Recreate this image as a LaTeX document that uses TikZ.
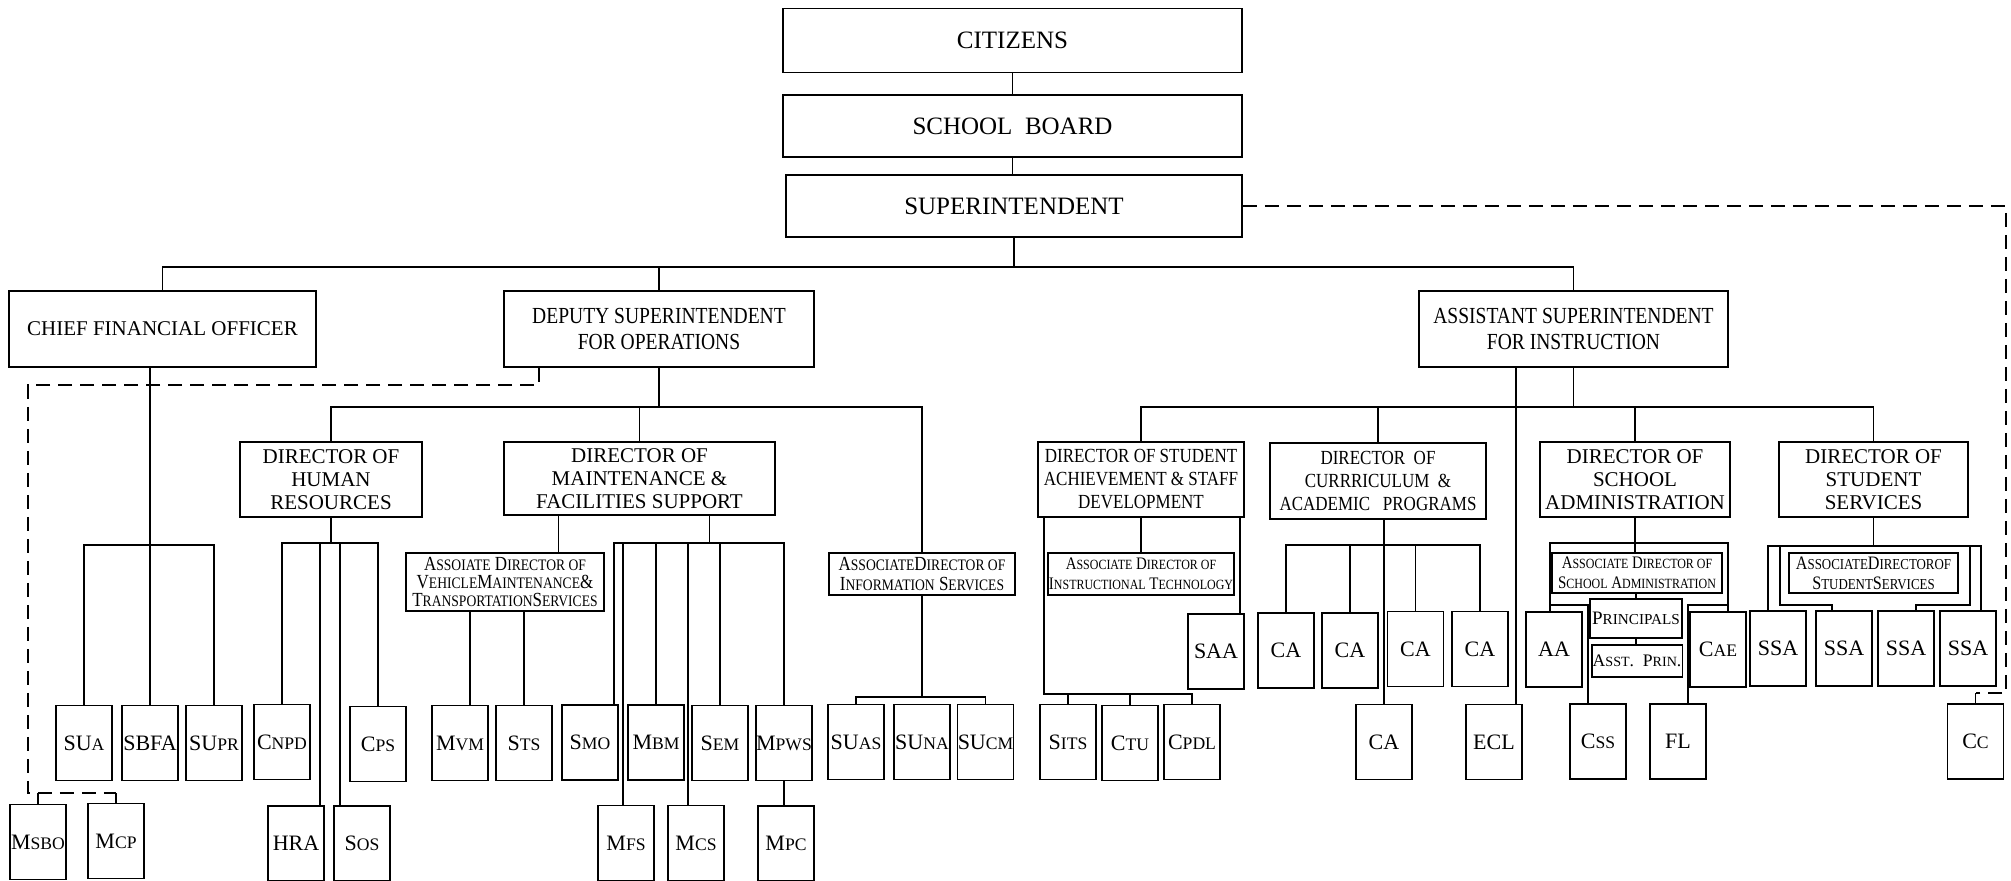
\documentclass[tikz,border=0pt]{standalone}
\usepackage{fontspec}
\setmainfont{Liberation Serif}
\newfontfamily\condfont[FakeStretch=0.85]{Liberation Serif}
\usepackage{graphicx}
\usetikzlibrary{calc}
\newcommand{\lsc}[1]{\scalebox{0.8}{#1}}

\begin{document}
\begin{tikzpicture}[x=0.5pt, y=-0.5pt, line width=0.8pt,
    box/.style={draw, inner sep=0.5pt, align=center},
    topbox/.style={box, minimum width=229.5pt, minimum height=32pt, font=\fontsize{12.5}{14}\selectfont},
    headbox/.style={box, minimum width=154.5pt, minimum height=38pt, font=\condfont\fontsize{11.5}{13}\selectfont},
    dirbox/.style={box, minimum height=37.5pt, font=\fontsize{10.5}{11.5}\selectfont},
    assocbox/.style={box, minimum height=21pt, font=\condfont\fontsize{10}{10}\selectfont},
    leaf/.style={box, inner sep=0pt, minimum width=28pt, minimum height=37.5pt, font=\fontsize{11}{12}\selectfont},
    dashlink/.style={dash pattern=on 7pt off 4pt}]
  \useasboundingbox (0,0) rectangle (2011,881);

  \node[topbox] (citizens) at (1012.5,40.5) {CITIZENS};
  \node[topbox, minimum height=31pt] (board) at (1012.5,126) {SCHOOL\ \ BOARD};
  \node[topbox, minimum width=228pt, minimum height=31pt] (supt) at (1014,206) {SUPERINTENDENT};

  \node[headbox, minimum width=153.5pt, font=\fontsize{10.5}{12}\selectfont] (cfo) at (162.5,329) {CHIEF FINANCIAL OFFICER};
  \node[headbox, minimum width=155pt] (deputy) at (659,329) {DEPUTY SUPERINTENDENT\\FOR OPERATIONS};
  \node[headbox] (asi) at (1573.5,329) {ASSISTANT SUPERINTENDENT\\FOR INSTRUCTION};

  \node[dirbox, minimum width=91pt] (dirHR) at (331,479.5) {DIRECTOR OF\\HUMAN\\RESOURCES};
  \node[dirbox, minimum width=135.5pt, minimum height=36.5pt] (dirMF) at (639.5,478.5) {DIRECTOR OF\\MAINTENANCE \&\\FACILITIES SUPPORT};
  \node[dirbox, minimum width=103pt, font=\condfont\fontsize{10}{11.5}\selectfont] (dirSA) at (1141,479.5) {DIRECTOR OF STUDENT\\ACHIEVEMENT \& STAFF\\DEVELOPMENT};
  \node[dirbox, minimum width=108pt, minimum height=38pt, font=\condfont\fontsize{10}{11.5}\selectfont] (dirCA) at (1378,481) {DIRECTOR\ \ OF\\CURRRICULUM\ \ \&\\ACADEMIC\ \ \ PROGRAMS};
  \node[dirbox, minimum width=95pt] (dirAdm) at (1635,479.5) {DIRECTOR OF\\SCHOOL\\ADMINISTRATION};
  \node[dirbox, minimum width=94.5pt] (dirSS) at (1873.5,479.5) {DIRECTOR OF\\STUDENT\\SERVICES};

  \node[assocbox, minimum width=99pt, minimum height=29pt, font=\condfont\fontsize{10}{9}\selectfont] (assocVM) at (505,582) {A\lsc{SSOIATE} D\lsc{IRECTOR OF}\\V\lsc{EHICLE}M\lsc{AINTENANCE}\&\\T\lsc{RANSPORTATION}S\lsc{ERVICES}};
  \node[assocbox, minimum width=93pt] (assocIS) at (922,574) {A\lsc{SSOCIATE}D\lsc{IRECTOR OF}\\I\lsc{NFORMATION} S\lsc{ERVICES}};
  \node[assocbox, minimum width=91pt, font=\condfont\fontsize{8.8}{10}\selectfont] (assocIT) at (1141,574) {A\lsc{SSOCIATE} D\lsc{IRECTOR OF}\\I\lsc{NSTRUCTIONAL} T\lsc{ECHNOLOGY}};
  \node[assocbox, minimum width=85pt, minimum height=20pt, font=\condfont\fontsize{8.8}{10}\selectfont] (assocAdm) at (1637,573) {A\lsc{SSOCIATE} D\lsc{IRECTOR OF}\\S\lsc{CHOOL} A\lsc{DMINISTRATION}};
  \node[assocbox, minimum width=84.5pt, minimum height=20pt, font=\condfont\fontsize{9.5}{10}\selectfont] (assocSS) at (1873.5,573) {A\lsc{SSOCIATE}D\lsc{IRECTOROF}\\S\lsc{TUDENT}S\lsc{ERVICES}};
  \node[box, minimum width=46pt, minimum height=19.5pt, font=\fontsize{9.5}{10}\selectfont] (principals) at (1636,618.5) {P\lsc{RINCIPALS}};
  \node[box, minimum width=45pt, minimum height=16pt, font=\fontsize{8.8}{10}\selectfont] (asstprin) at (1637,661) {A\lsc{SST}.\ \ P\lsc{RIN}.};

  \node[leaf] (sua) at (84,743) {SU\lsc{A}};
  \node[leaf] (sbfa) at (150,743) {SBFA};
  \node[leaf] (supr) at (214,743) {SU\lsc{PR}};
  \node[leaf] (cnpd) at (282,742) {C\lsc{NPD}};
  \node[leaf] (cps) at (378,744) {C\lsc{PS}};
  \node[leaf] (mvm) at (460,743) {M\lsc{VM}};
  \node[leaf] (sts) at (524,743) {S\lsc{TS}};
  \node[leaf] (smo) at (590,742.5) {S\lsc{MO}};
  \node[leaf] (mbm) at (656,742.5) {M\lsc{BM}};
  \node[leaf] (sem) at (720,743) {S\lsc{EM}};
  \node[leaf] (mpws) at (784,743) {M\lsc{PWS}};
  \node[leaf] (suas) at (856,742) {SU\lsc{AS}};
  \node[leaf] (suna) at (922,742) {SU\lsc{NA}};
  \node[leaf] (sucm) at (985.5,742) {SU\lsc{CM}};
  \node[leaf] (msbo) at (38,842) {M\lsc{SBO}};
  \node[leaf] (mcp) at (116,841) {M\lsc{CP}};
  \node[leaf] (hra) at (296,843.5) {HRA};
  \node[leaf] (sos) at (362,843.5) {S\lsc{OS}};
  \node[leaf] (mfs) at (626,843) {M\lsc{FS}};
  \node[leaf] (mcs) at (696,843) {M\lsc{CS}};
  \node[leaf] (mpc) at (786,843.5) {M\lsc{PC}};

  \node[leaf] (saa) at (1216,651.5) {SAA};
  \node[leaf] (sits) at (1068,742) {S\lsc{ITS}};
  \node[leaf] (ctu) at (1130,743) {C\lsc{TU}};
  \node[leaf] (cpdl) at (1192,742) {C\lsc{PDL}};
  \node[leaf] (ca1) at (1286,650.5) {CA};
  \node[leaf] (ca2) at (1350,650.5) {CA};
  \node[leaf] (ca3) at (1415.5,649) {CA};
  \node[leaf] (ca4) at (1480,649) {CA};
  \node[leaf] (ca5) at (1384,742) {CA};
  \node[leaf] (ecl) at (1494,742) {ECL};
  \node[leaf] (aa) at (1554,649.5) {AA};
  \node[leaf] (cae) at (1718,649.5) {C\lsc{AE}};
  \node[leaf] (css) at (1598,741.5) {C\lsc{SS}};
  \node[leaf] (fl) at (1678,741.5) {FL};
  \node[leaf] (ssa1) at (1778,648.5) {SSA};
  \node[leaf] (ssa2) at (1844,648.5) {SSA};
  \node[leaf] (ssa3) at (1906,648.5) {SSA};
  \node[leaf] (ssa4) at (1968,648.5) {SSA};
  \node[leaf] (cc) at (1975.5,741.5) {C\lsc{C}};

  \coordinate (topbus) at (1016,267);
  \coordinate (ccbend) at (2006,693);
  \coordinate (msbend) at (28,385);
  \coordinate (msrow) at (28,793);
  \coordinate (cfobus) at (150,545);
  \coordinate (depbus) at (663,407);
  \coordinate (hrbus) at (332,543);
  \coordinate (mfbus) at (709,543);
  \coordinate (isbus) at (922,697);
  \coordinate (instbus) at (1576,407);
  \coordinate (sabus) at (1044,694);
  \coordinate (cabus) at (1384,545);
  \coordinate (admbus) at (1638,543);
  \coordinate (admleft) at (1550,605);
  \coordinate (admright) at (1728,605);
  \coordinate (ssbus) at (1876,546);
  \coordinate (ssleft) at (1780,546);
  \coordinate (ssright) at (1970,546);

  \draw (citizens.south) -- (citizens.south |- board.north);
  \draw (board.south) -- (board.south |- supt.north);
  \draw (supt.south) -- (supt.south |- topbus);
  \draw (cfo.north) |- (topbus) -| (asi.north);
  \draw (deputy.north) -- (deputy.north |- topbus);

  \draw[dashlink] (supt.east) -| (ccbend) -- (ccbend -| cc.north);
  \draw (ccbend -| cc.north) -- (cc.north);
  \draw[dashlink] (deputy.south) ++(-120,0) |- (msbend) -- (msrow) -- (msrow -| mcp.north);
  \draw (msbo.north) -- (msbo.north |- msrow);
  \draw (mcp.north) -- (mcp.north |- msrow);

  \draw (cfo.south -| sbfa.north) -- (sbfa.north);
  \draw (sua.north) |- (cfobus) -| (supr.north);

  \draw (deputy.south) -- (deputy.south |- depbus);
  \draw (dirHR.north) |- (depbus) -| (assocIS.north);
  \draw (dirMF.north) -- (dirMF.north |- depbus);

  \draw (dirHR.south) -- (dirHR.south |- hrbus);
  \draw (cnpd.north) |- (hrbus) -| (cps.north);
  \draw ([xshift=12pt]hra.north) -- ([xshift=12pt]hra.north |- hrbus);
  \draw ([xshift=-11pt]sos.north) -- ([xshift=-11pt]sos.north |- hrbus);

  \draw ([xshift=-40.5pt]dirMF.south) -- ([xshift=-40.5pt]dirMF.south |- assocVM.north);
  \draw ([xshift=5pt]mvm.north) -- ([xshift=5pt]mvm.north |- assocVM.south);
  \draw (sts.north) -- (sts.north |- assocVM.south);
  \draw ([xshift=35pt]dirMF.south) -- ([xshift=35pt]dirMF.south |- mfbus);
  \draw ([xshift=12pt]smo.north) |- (mfbus) -| (mpws.north);
  \draw ([xshift=-1.5pt]mfs.north) -- ([xshift=-1.5pt]mfs.north |- mfbus);
  \draw (mbm.north) -- (mbm.north |- mfbus);
  \draw ([xshift=-4pt]mcs.north) -- ([xshift=-4pt]mcs.north |- mfbus);
  \draw (sem.north) -- (sem.north |- mfbus);
  \draw (mpws.south) -- (mpws.south |- mpc.north);

  \draw (assocIS.south) -- (assocIS.south |- isbus);
  \draw (suas.north) |- (isbus) -| (sucm.north);

  \draw (asi.south) -- (asi.south |- instbus);
  \draw (dirSA.north) |- (instbus) -| (dirSS.north);
  \draw (dirCA.north) -- (dirCA.north |- instbus);
  \draw (dirAdm.north) -- (dirAdm.north |- instbus);
  \draw ([xshift=11pt]ecl.north) -- ([xshift=11pt]ecl.north |- asi.south);

  \draw (dirSA.south -| sabus) -- (sabus) -| (cpdl.north);
  \draw (sits.north) -- (sits.north |- sabus);
  \draw (ctu.north) -- (ctu.north |- sabus);
  \draw (dirSA.south) -- (assocIT.north);
  \draw ([xshift=12pt]saa.north) -- ([xshift=12pt]saa.north |- dirSA.south);

  \draw (dirCA.south -| ca5.north) -- (ca5.north);
  \draw (ca1.north) |- (cabus) -| (ca4.north);
  \draw (ca2.north) -- (ca2.north |- cabus);
  \draw (ca3.north) -- (ca3.north |- cabus);

  \draw (dirAdm.south) -- (dirAdm.south |- assocAdm.north);
  \draw ([xshift=-2pt]aa.north) |- (admbus) -| ([xshift=5pt]cae.north);
  \draw (principals.north) -- (principals.north |- assocAdm.south);
  \draw (principals.south) -- (principals.south |- asstprin.north);
  \draw (admleft) -| ([xshift=-5pt]css.north);
  \draw (admright) -| ([xshift=5pt]fl.north);

  \draw (dirSS.south) -- (dirSS.south |- ssbus);
  \draw ([xshift=-5pt]ssa1.north) |- (ssbus) -| ([xshift=6.5pt]ssa4.north);
  \draw (ssleft) -- ++(0,59) -| ([xshift=-6pt]ssa2.north);
  \draw (ssright) -- ++(0,59) -| ([xshift=5pt]ssa3.north);
\end{tikzpicture}
\end{document}
